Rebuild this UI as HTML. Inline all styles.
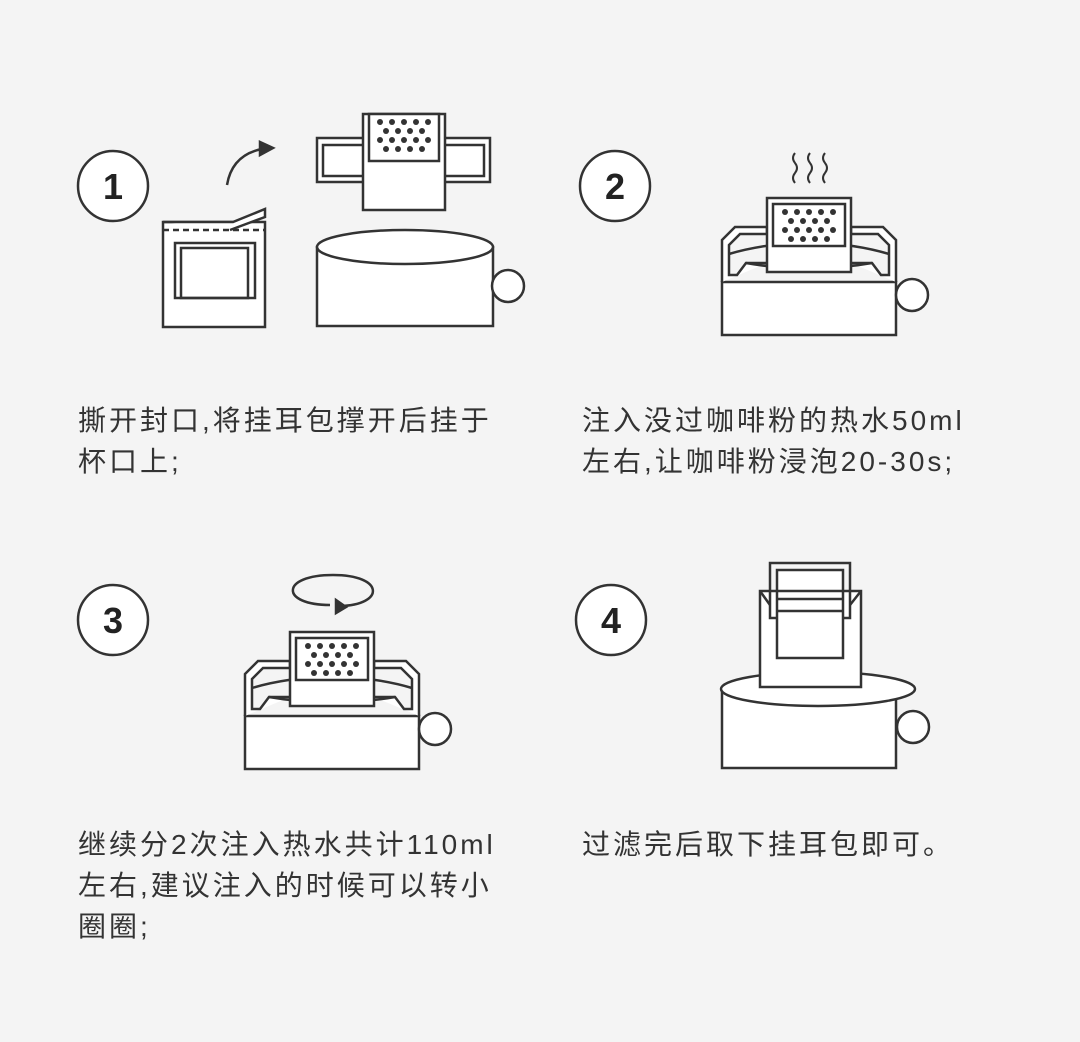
<!DOCTYPE html>
<html><head><meta charset="utf-8"><style>
body{margin:0;background:#f4f4f4;width:1080px;height:1042px;overflow:hidden;position:relative;font-family:"Liberation Sans","Noto Sans CJK SC",sans-serif;color:#333}
.t{position:absolute;font-size:28px;line-height:41px;letter-spacing:3px}
svg{position:absolute;left:0;top:0}
</style></head><body>
<svg width="1080" height="1042" fill="none" stroke="#333" stroke-width="2.5">
<defs>
<g id="dots" fill="#333" stroke="none">
<circle cx="0" cy="0" r="3"/><circle cx="12" cy="0" r="3"/><circle cx="24" cy="0" r="3"/><circle cx="36" cy="0" r="3"/><circle cx="48" cy="0" r="3"/>
<circle cx="6" cy="9" r="3"/><circle cx="18" cy="9" r="3"/><circle cx="30" cy="9" r="3"/><circle cx="42" cy="9" r="3"/>
<circle cx="0" cy="18" r="3"/><circle cx="12" cy="18" r="3"/><circle cx="24" cy="18" r="3"/><circle cx="36" cy="18" r="3"/><circle cx="48" cy="18" r="3"/>
<circle cx="6" cy="27" r="3"/><circle cx="18" cy="27" r="3"/><circle cx="30" cy="27" r="3"/><circle cx="42" cy="27" r="3"/>
</g>
<g id="cupset">
<rect x="0" y="0" width="174" height="53" fill="#fff"/>
<path d="M0 0 L0 -42 L13 -55 L45 -55 L45 -48 L18 -48 L7 -37 L7 -7 L15 -7 L24 -19 L45 -19" fill="#fff"/>
<path d="M174 0 L174 -42 L161 -55 L129 -55 L129 -48 L156 -48 L167 -37 L167 -7 L159 -7 L150 -19 L129 -19" fill="#fff"/>
<path d="M7 -28 Q40 -38 87 -40 Q134 -38 167 -28"/>
<path d="M24 -19 Q87 -8 150 -19"/>
<rect x="45" y="-84" width="84" height="74" fill="#fff"/>
<rect x="51" y="-78" width="72" height="42" fill="#fff"/>
<use href="#dots" x="63" y="-70"/>
<circle cx="190" cy="13" r="16" fill="#fff"/>
</g>
</defs>
<g fill="#fff">
<circle cx="113" cy="186" r="35"/><circle cx="615" cy="186" r="35"/>
<circle cx="113" cy="620" r="35"/><circle cx="611" cy="620" r="35"/>
</g>
<rect x="163" y="222" width="102" height="105" fill="#fff"/>
<path d="M163 222 H233 L265 209 V217 L230 230" fill="#fff"/>
<line x1="163" y1="230" x2="265" y2="230" stroke-dasharray="6 4"/>
<rect x="175" y="243" width="80" height="55"/><rect x="181" y="248" width="67" height="50"/>
<path d="M227 185 Q232 155 262 149"/>
<path d="M260 142 L273 148 L260 155 Z" fill="#333"/>
<rect x="317" y="138" width="173" height="44" fill="#fff"/><rect x="323" y="145" width="161" height="31"/>
<rect x="363" y="114" width="82" height="96" fill="#fff"/>
<rect x="369" y="114" width="70" height="47" fill="#fff"/>
<use href="#dots" x="380" y="122"/>
<rect x="317" y="247" width="176" height="79" fill="#fff"/>
<ellipse cx="405" cy="247" rx="88" ry="17" fill="#fff"/>
<circle cx="508" cy="286" r="16" fill="#fff"/>
<use href="#cupset" x="722" y="282"/>
<path d="M795 153 q-4 5 0 10 q4 5 0 10 q-4 5 0 10 M810 153 q-4 5 0 10 q4 5 0 10 q-4 5 0 10 M825 153 q-4 5 0 10 q4 5 0 10 q-4 5 0 10" stroke-width="2"/>
<use href="#cupset" x="245" y="716"/>
<path d="M330 605 C280 605 280 575 333 575 C385 575 385 605 340 606"/>
<path d="M336 600 L346 607 L336 613 Z" fill="#333"/>
<rect x="722" y="689" width="174" height="79" fill="#fff"/>
<ellipse cx="818" cy="689" rx="97" ry="17" fill="#fff"/>
<circle cx="913" cy="727" r="16" fill="#fff"/>
<rect x="760" y="591" width="101" height="96" fill="#fff"/>
<rect x="770" y="563" width="80" height="55"/>
<rect x="777" y="570" width="66" height="88" fill="#fff"/>
<line x1="777" y1="591" x2="843" y2="591"/><line x1="777" y1="599" x2="843" y2="599"/><line x1="777" y1="611" x2="843" y2="611"/>
<path d="M760 591 L770 605 M861 591 L850 605"/>
</svg>
<svg width="1080" height="1042" style="pointer-events:none">
<g font-family="Liberation Sans, sans-serif" font-weight="bold" font-size="36" fill="#222" text-anchor="middle">
<text x="113" y="199">1</text><text x="615" y="199">2</text><text x="113" y="633">3</text><text x="611" y="633">4</text>
</g></svg>
<div class="t" style="left:78px;top:400px">撕开封口,将挂耳包撑开后挂于<br>杯口上;</div>
<div class="t" style="left:582px;top:400px">注入没过咖啡粉的热水50ml<br>左右,让咖啡粉浸泡20-30s;</div>
<div class="t" style="left:78px;top:824px">继续分2次注入热水共计110ml<br>左右,建议注入的时候可以转小<br>圈圈;</div>
<div class="t" style="left:582px;top:824px">过滤完后取下挂耳包即可。</div>
</body></html>
